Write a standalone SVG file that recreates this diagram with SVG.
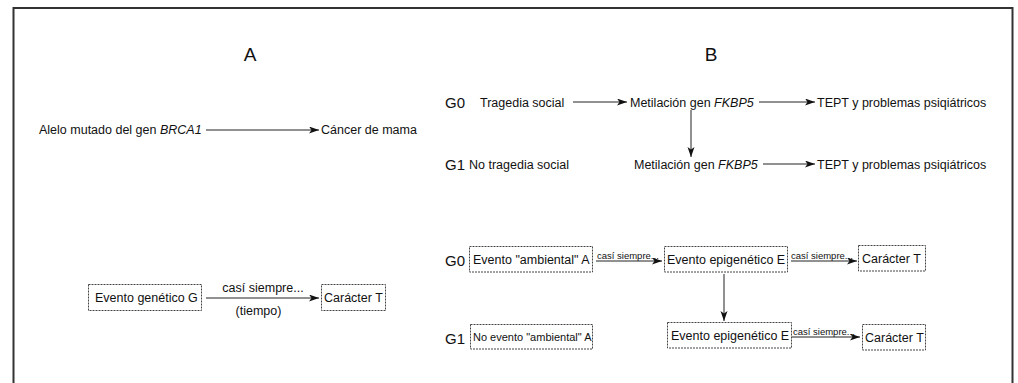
<svg xmlns="http://www.w3.org/2000/svg" width="1018" height="383" viewBox="0 0 1018 383">
<defs>
<marker id="ah" markerUnits="userSpaceOnUse" markerWidth="11" markerHeight="8" refX="10" refY="3.5" orient="auto">
<path d="M0,0 L10,3.5 L0,7 L2.5,3.5 z" fill="#111"/>
</marker>
<style>
text{font-family:"Liberation Sans",Arial,sans-serif;fill:#111;font-size:12.5px}
.title{font-size:19px}
.gen{font-size:15px}
.small{font-size:9.5px}
.s11{font-size:11px}
.box{fill:#fff;stroke:#444;stroke-width:1;stroke-dasharray:2 1}
.conn line{stroke:#222;stroke-width:1;marker-end:url(#ah)}
</style>
</defs>
<rect x="0" y="0" width="1018" height="383" fill="#fff"/>
<rect x="13.5" y="8" width="999" height="420" fill="none" stroke="#333" stroke-width="2"/>

<g id="titles">
<text class="title" x="250" y="61" text-anchor="middle">A</text>
<text class="title" x="711" y="61" text-anchor="middle">B</text>
</g>

<g id="labels-gen">
<text class="gen" x="445" y="107.5">G0</text>
<text class="gen" x="445" y="169.5">G1</text>
<text class="gen" x="445" y="265.5">G0</text>
<text class="gen" x="445" y="343.5">G1</text>
</g>

<g id="connectors" class="conn">
<line x1="206" y1="130" x2="319" y2="130"/>
<line x1="206" y1="298" x2="319" y2="298"/>
<line x1="573" y1="102" x2="627" y2="102"/>
<line x1="759" y1="102" x2="815" y2="102"/>
<line x1="691" y1="110" x2="691" y2="157"/>
<line x1="763" y1="164" x2="815" y2="164"/>
<line x1="596" y1="261" x2="662" y2="261"/>
<line x1="791" y1="261" x2="857" y2="261"/>
<line x1="724" y1="274" x2="724" y2="321"/>
<line x1="792" y1="337" x2="860" y2="337"/>
</g>

<g id="edge-labels">
<text x="263" y="292" text-anchor="middle">casí siempre...</text>
<text x="258.5" y="315" text-anchor="middle">(tiempo)</text>
<text class="small" x="597" y="258.5">casí siempre...</text>
<text class="small" x="791" y="258.5">casí siempre...</text>
<text class="small" x="793" y="334.5">casí siempre...</text>
</g>

<g id="node-brca1"><text x="39" y="134">Alelo mutado del gen <tspan font-style="italic">BRCA1</tspan></text></g>
<g id="node-cancer"><text x="321" y="134">Cáncer de mama</text></g>

<g id="node-evento-g"><rect class="box" x="88.5" y="284.5" width="113" height="26"/><text x="95" y="302">Evento genético G</text></g>
<g id="node-caracter-a"><rect class="box" x="321.5" y="284.5" width="64" height="26"/><text x="324" y="302">Carácter T</text></g>

<g id="node-tragedia"><text x="480" y="106.5">Tragedia social</text></g>
<g id="node-metil-g0"><text x="630" y="106.5">Metilación gen <tspan font-style="italic">FKBP5</tspan></text></g>
<g id="node-tept-g0"><text x="817" y="106.5">TEPT y problemas psiqiátricos</text></g>
<g id="node-notragedia"><text x="469" y="168.5">No tragedia social</text></g>
<g id="node-metil-g1"><text x="634" y="168.5">Metilación gen <tspan font-style="italic">FKBP5</tspan></text></g>
<g id="node-tept-g1"><text x="817" y="168.5">TEPT y problemas psiqiátricos</text></g>

<g id="node-amb-g0"><rect class="box" x="469.5" y="246.5" width="123" height="25.5"/><text x="473" y="264">Evento "ambiental" A</text></g>
<g id="node-epi-g0"><rect class="box" x="664.5" y="246.5" width="123" height="25.5"/><text x="667" y="264">Evento epigenético E</text></g>
<g id="node-car-g0"><rect class="box" x="858.5" y="245.5" width="67" height="25.5"/><text x="862" y="263">Carácter T</text></g>
<g id="node-amb-g1"><rect class="box" x="470.5" y="324.5" width="122" height="24.5"/><text class="s11" x="473" y="341">No evento "ambiental" A</text></g>
<g id="node-epi-g1"><rect class="box" x="667.5" y="322.5" width="124" height="25.5"/><text x="671" y="340">Evento epigenético E</text></g>
<g id="node-car-g1"><rect class="box" x="862.5" y="324.5" width="63" height="25.5"/><text x="865" y="342">Carácter T</text></g>
</svg>
